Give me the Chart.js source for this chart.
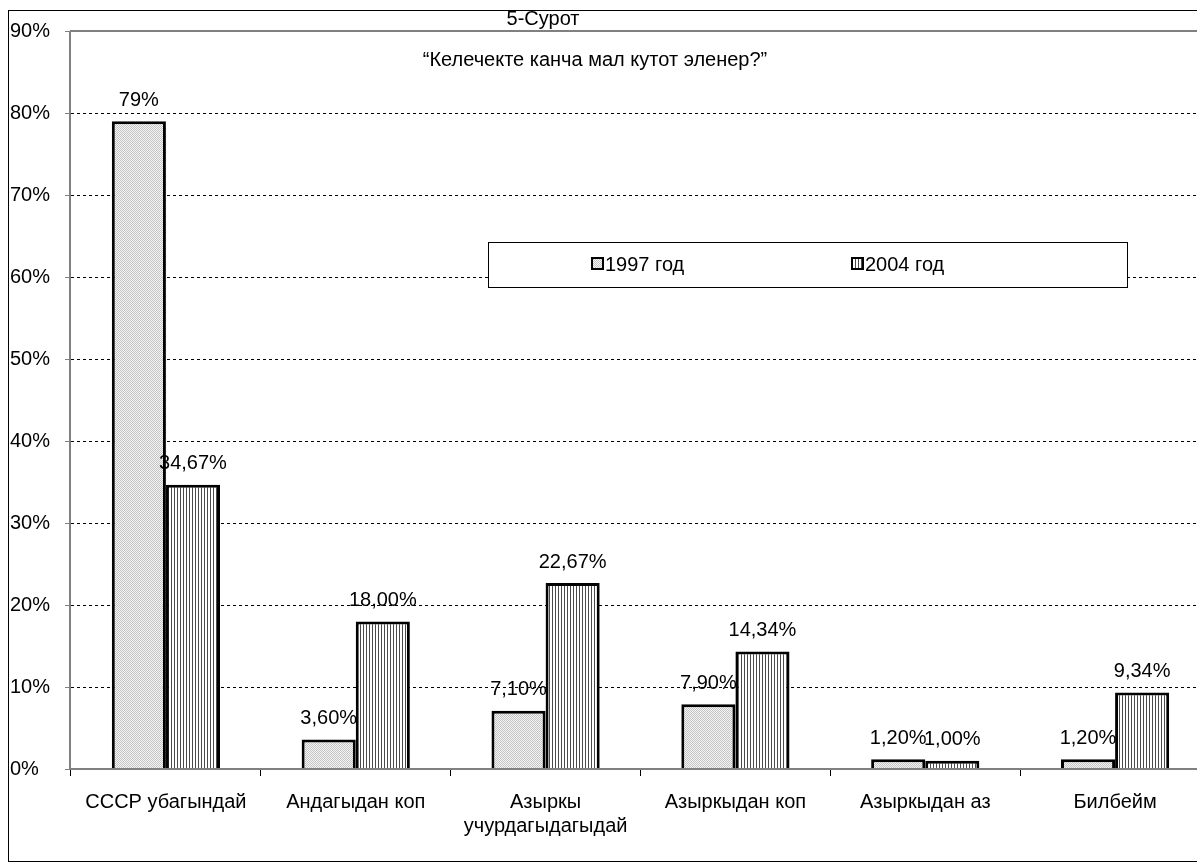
<!DOCTYPE html>
<html>
<head>
<meta charset="utf-8">
<script src="https://cdn.jsdelivr.net/npm/chart.js@4"></script>
<style>
  html, body { margin: 0; padding: 0; background: #fff; overflow: hidden; }
  #wrap { width: 1215px; height: 864px; }
</style>
</head>
<body>
<div id="wrap"><canvas id="chart" width="1215" height="864"></canvas></div>
<script>
// --- datos ---
const categories = ['СССР убагындай', 'Андагыдан коп', ['Азыркы', 'учурдагыдагыдай'], 'Азыркыдан коп', 'Азыркыдан аз', 'Билбейм'];
const seriesNames = ['1997 год', '2004 год'];
const values1997 = [79, 3.6, 7.1, 7.9, 1.2, 1.2];
const values2004 = [34.67, 18.00, 22.67, 14.34, 1.00, 9.34];
const labels1997 = ['79%', '3,60%', '7,10%', '7,90%', '1,20%', '1,20%'];
const labels2004 = ['34,67%', '18,00%', '22,67%', '14,34%', '1,00%', '9,34%'];
const yTicks = [0, 10, 20, 30, 40, 50, 60, 70, 80, 90];
const titleLines = ['5-Сурот', '“Келечекте канча мал кутот эленер?”'];

const FONT = '"Liberation Sans", Arial, sans-serif';

// patrones tipo Excel
function dotPattern() {
  const c = document.createElement('canvas');
  c.width = 2; c.height = 2;
  const x = c.getContext('2d');
  x.fillStyle = '#f4f4f4'; x.fillRect(0, 0, 2, 2);
  x.fillStyle = '#c4c4c4'; x.fillRect(0, 0, 1, 1); x.fillRect(1, 1, 1, 1);
  return x.createPattern(c, 'repeat');
}
function stripePattern() {
  const c = document.createElement('canvas');
  c.width = 3; c.height = 3;
  const x = c.getContext('2d');
  x.fillStyle = '#ffffff'; x.fillRect(0, 0, 3, 3);
  x.fillStyle = '#4a4a4a'; x.fillRect(0, 0, 1, 3);
  return x.createPattern(c, 'repeat');
}
const fill1997 = dotPattern();
const fill2004 = stripePattern();

// marco, titulo, ejes, leyenda y etiquetas
const decor = {
  id: 'decor',
  beforeDraw(chart) {
    const ctx = chart.ctx;
    ctx.save();
    ctx.fillStyle = '#fff';
    ctx.fillRect(0, 0, chart.width, chart.height);
    ctx.strokeStyle = '#000';
    ctx.lineWidth = 1;
    ctx.strokeRect(8.5, 10.5, 1400, 851);
    ctx.restore();
  },
  afterDatasetsDraw(chart) {
    const ctx = chart.ctx;
    const a = chart.chartArea;
    ctx.save();
    // lineas de eje
    ctx.strokeStyle = '#808080';
    ctx.lineWidth = 2;
    ctx.beginPath();
    ctx.moveTo(a.left - 1, a.top); ctx.lineTo(a.right, a.top);
    ctx.moveTo(a.left - 1, a.bottom); ctx.lineTo(a.right, a.bottom);
    ctx.moveTo(a.left - 1, a.top); ctx.lineTo(a.left - 1, a.bottom);
    ctx.stroke();

    // etiquetas de datos
    ctx.fillStyle = '#000';
    ctx.font = '20px ' + FONT;
    ctx.textAlign = 'center';
    ctx.textBaseline = 'bottom';
    const texts = [labels1997, labels2004];
    chart.data.datasets.forEach((ds, i) => {
      chart.getDatasetMeta(i).data.forEach((el, j) => {
        ctx.fillText(texts[i][j], el.x, el.y - 11);
      });
    });

    // titulo
    ctx.textBaseline = 'middle';
    ctx.fillText(titleLines[0], 543, 19);
    ctx.fillText(titleLines[1], 595, 60);

    // leyenda
    ctx.fillStyle = '#fff';
    ctx.fillRect(488, 242, 639, 45);
    ctx.strokeStyle = '#000';
    ctx.lineWidth = 1;
    ctx.strokeRect(488.5, 242.5, 639, 45);
    const items = [{ x: 592, fill: fill1997 }, { x: 852, fill: fill2004 }];
    ctx.textAlign = 'left';
    items.forEach((it, i) => {
      ctx.fillStyle = it.fill;
      ctx.fillRect(it.x, 258, 11, 11);
      ctx.strokeStyle = '#000';
      ctx.lineWidth = 2;
      ctx.strokeRect(it.x, 258, 11, 11);
      ctx.fillStyle = '#000';
      ctx.fillText(seriesNames[i], it.x + 13, 265);
    });
    ctx.restore();
  }
};

new Chart(document.getElementById('chart'), {
  type: 'bar',
  data: {
    labels: categories,
    datasets: [
      { label: seriesNames[0], data: values1997, backgroundColor: fill1997, borderColor: '#000', borderWidth: 3, borderSkipped: 'bottom' },
      { label: seriesNames[1], data: values2004, backgroundColor: fill2004, borderColor: '#000', borderWidth: 3, borderSkipped: 'bottom' }
    ]
  },
  options: {
    responsive: false,
    animation: false,
    events: [],
    layout: { padding: { left: 10, top: 31, right: 5, bottom: 0 } },
    datasets: { bar: { categoryPercentage: 0.57, barPercentage: 1.0 } },
    plugins: { legend: { display: false }, tooltip: { enabled: false }, title: { display: false } },
    scales: {
      x: {
        grid: { offset: true, drawOnChartArea: false, tickLength: 7, tickColor: '#000', tickWidth: 1 },
        border: { display: false },
        ticks: { color: '#000', font: { family: FONT, size: 20 }, padding: 14, maxRotation: 0, autoSkip: false },
        afterFit(s) { s.height = 95; }
      },
      y: {
        min: 0, max: 90,
        afterBuildTicks(s) { s.ticks = yTicks.map(v => ({ value: v })); },
        grid: {
          color: ctx => (ctx.tick && (ctx.tick.value === 0 || ctx.tick.value === 90)) ? 'rgba(0,0,0,0)' : '#000',
          lineWidth: 1,
          tickLength: 6,
          tickColor: '#808080',
          tickWidth: 1
        },
        border: { display: false, dash: [3, 3] },
        ticks: { color: '#000', font: { family: FONT, size: 20 }, crossAlign: 'far', callback: v => v + '%' },
        afterFit(s) { s.width = 61; }
      }
    }
  },
  plugins: [decor]
});
</script>
</body>
</html>
